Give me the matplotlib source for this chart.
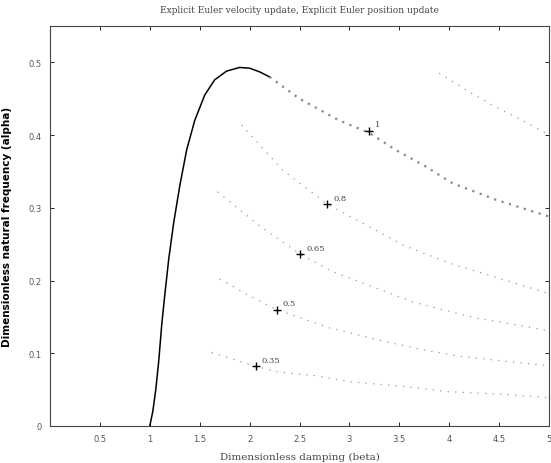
import numpy as np
import matplotlib
matplotlib.use("Agg")
import matplotlib.pyplot as plt

# stability boundary (level 1), solid part up to the peak
bound_beta = [1.0, 1.03, 1.06, 1.09, 1.12, 1.15, 1.19, 1.24, 1.30, 1.37, 1.45,
              1.55, 1.65, 1.77, 1.90, 2.0, 2.1, 2.2]
bound_alpha = [0.0, 0.02, 0.05, 0.09, 0.14, 0.18, 0.23, 0.28, 0.33, 0.38, 0.42,
               0.455, 0.476, 0.488, 0.493, 0.492, 0.487, 0.48]
# level 1 continued (scattered dotted band)
band_beta = [2.2, 2.5, 2.9, 3.2, 3.47, 3.75, 4.03, 4.47, 5.0]
band_alpha = [0.48, 0.45, 0.42, 0.403, 0.379, 0.358, 0.334, 0.311, 0.288]

# inner contour levels
c08_beta = [1.92, 2.33, 2.78, 3.55, 4.0, 4.5, 5.0]
c08_alpha = [0.414, 0.352, 0.305, 0.248, 0.224, 0.203, 0.182]
c065_beta = [1.68, 2.1, 2.51, 2.82, 3.53, 3.65, 4.28, 4.47, 5.0]
c065_alpha = [0.322, 0.275, 0.236, 0.213, 0.176, 0.170, 0.148, 0.144, 0.131]
c05_beta = [1.70, 1.83, 1.97, 2.1, 2.27, 2.8, 3.07, 3.33, 3.73, 4.1, 4.63, 5.0]
c05_alpha = [0.202, 0.192, 0.181, 0.172, 0.160, 0.135, 0.126, 0.117, 0.105, 0.096, 0.088, 0.083]
c035_beta = [1.62, 1.92, 2.06, 2.3, 2.67, 3.0, 3.5, 4.0, 4.5, 5.0]
c035_alpha = [0.101, 0.088, 0.082, 0.074, 0.069, 0.061, 0.055, 0.047, 0.044, 0.039]
# faint contour at top right
ctop_beta = [3.9, 4.17, 4.45, 4.82, 5.0]
ctop_alpha = [0.485, 0.462, 0.44, 0.414, 0.40]

# label markers
lab_text = ["1", "0.8", "0.65", "0.5", "0.35"]
lab_beta = [3.2, 2.78, 2.51, 2.27, 2.06]
lab_alpha = [0.406, 0.305, 0.236, 0.160, 0.082]

xticks = [0.5, 1, 1.5, 2, 2.5, 3, 3.5, 4, 4.5, 5]
xtick_labels = ["0.5", "1", "1.5", "2", "2.5", "3", "3.5", "4", "4.5", "5"]
yticks = [0, 0.1, 0.2, 0.3, 0.4, 0.5]
ytick_labels = ["0", "0.1", "0.2", "0.3", "0.4", "0.5"]

fig = plt.figure(figsize=(5.51, 4.64), dpi=100)
ax = fig.add_axes([50 / 551, 37 / 464, 499 / 551, 400 / 464])

ax.plot(bound_beta, bound_alpha, color="black", lw=1.1)
ax.plot(band_beta, band_alpha, color="#888888", lw=1.6, ls=(0, (1, 2.5)))
for b, a in [(c08_beta, c08_alpha), (c065_beta, c065_alpha),
             (c05_beta, c05_alpha), (c035_beta, c035_alpha),
             (ctop_beta, ctop_alpha)]:
    ax.plot(b, a, color="#999999", lw=0.9, ls=(0, (1, 5)))

ax.plot(lab_beta, lab_alpha, "k+", ms=6, mew=1.0)
for t, b, a in zip(lab_text, lab_beta, lab_alpha):
    ax.text(b + 0.06, a + 0.006, t, fontsize=6, color="#444444",
            family="DejaVu Serif")

ax.set_xlim(0, 5)
ax.set_ylim(0, 0.55)
ax.set_xticks(xticks)
ax.set_xticklabels(xtick_labels)
ax.set_yticks(yticks)
ax.set_yticklabels(ytick_labels)
ax.tick_params(direction="in", length=3, width=0.6, top=True, right=True,
               labelsize=6, labelcolor="#555555", pad=6)
for s in ax.spines.values():
    s.set_linewidth(0.8)
    s.set_color("#444444")

ax.set_title("Explicit Euler velocity update, Explicit Euler position update",
             fontsize=6.5, color="#444444", family="DejaVu Serif", pad=10)
ax.set_xlabel("Dimensionless damping (beta)", fontsize=7.5, color="#444444",
              family="DejaVu Serif", labelpad=6)
ax.set_ylabel("Dimensionless natural frequency (alpha)", fontsize=7.5,
              fontweight="bold", labelpad=12)

fig.savefig("out.png", dpi=100)
